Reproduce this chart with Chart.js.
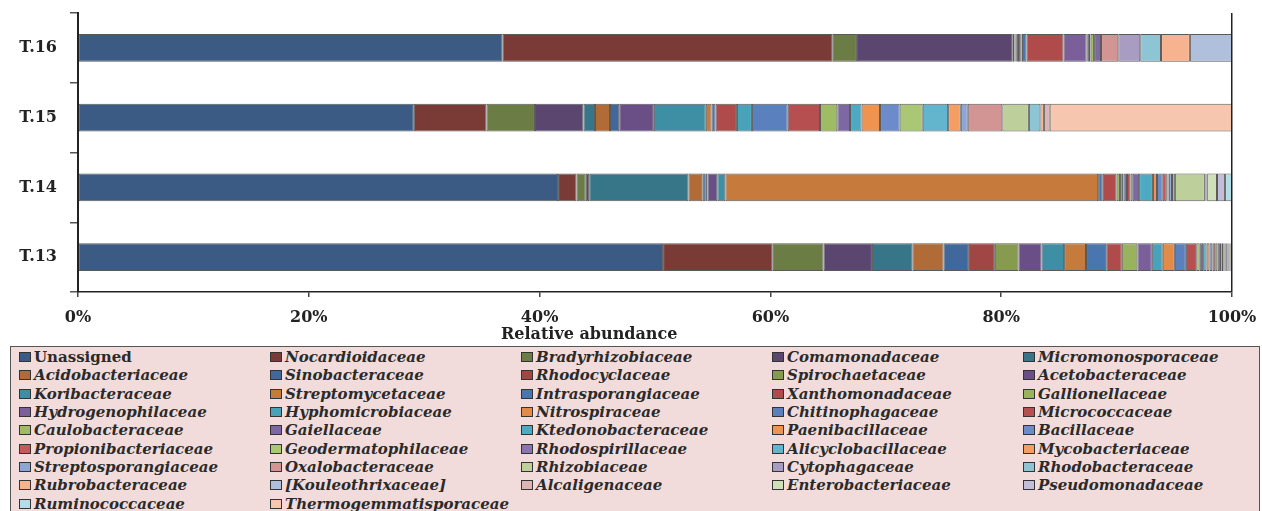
<!DOCTYPE html>
<html>
<head>
<meta charset="utf-8">
<script src="https://cdn.jsdelivr.net/npm/chart.js@4/dist/chart.umd.min.js"></script>
<style>
    html, body { margin: 0; padding: 0; background: #fff; }
    #wrap { position: relative; width: 1262px; height: 511px; overflow: hidden; }
    #chart { position: absolute; left: 0; top: 0; }
    #legend {
        position: absolute; left: 10px; top: 346px; width: 1250px; height: 180px;
        box-sizing: border-box; border: 1px solid #555; background: #F2DCDB;
        display: grid; grid-template-columns: repeat(5, 251px); grid-auto-rows: 18.3px;
        padding: 1px 0 0 8px;
        font-family: "DejaVu Serif", serif; font-weight: bold; font-style: italic;
        font-size: 15px; color: #2a2a2a;
    }
    .item { display: flex; align-items: center; white-space: nowrap; }
    .item.plain { font-style: normal; }
    .sw { width: 10px; height: 8px; border: 1px solid #333; margin-right: 3px; flex: none; }
</style>
</head>
<body>
<div id="wrap">
    <canvas id="chart" width="1262" height="345"></canvas>
    <div id="legend"></div>
</div>
<script>
// samples, top to bottom
const samples = ['T.16', 'T.15', 'T.14', 'T.13'];

const families = [
    'Unassigned', 'Nocardioidaceae', 'Bradyrhizobiaceae', 'Comamonadaceae', 'Micromonosporaceae',
    'Acidobacteriaceae', 'Sinobacteraceae', 'Rhodocyclaceae', 'Spirochaetaceae', 'Acetobacteraceae',
    'Koribacteraceae', 'Streptomycetaceae', 'Intrasporangiaceae', 'Xanthomonadaceae', 'Gallionellaceae',
    'Hydrogenophilaceae', 'Hyphomicrobiaceae', 'Nitrospiraceae', 'Chitinophagaceae', 'Micrococcaceae',
    'Caulobacteraceae', 'Gaiellaceae', 'Ktedonobacteraceae', 'Paenibacillaceae', 'Bacillaceae',
    'Propionibacteriaceae', 'Geodermatophilaceae', 'Rhodospirillaceae', 'Alicyclobacillaceae', 'Mycobacteriaceae',
    'Streptosporangiaceae', 'Oxalobacteraceae', 'Rhizobiaceae', 'Cytophagaceae', 'Rhodobacteraceae',
    'Rubrobacteraceae', '[Kouleothrixaceae]', 'Alcaligenaceae', 'Enterobacteriaceae', 'Pseudomonadaceae',
    'Ruminococcaceae', 'Thermogemmatisporaceae'
];

// relative abundance (%) per family, same order as families
const t16 = [36.8, 28.6, 2.1, 13.5, 0.15, 0.1, 0.1, 0.1, 0.1, 0.1,
    0.1, 0.05, 0.4, 3.2, 0, 2.0, 0.1, 0.1, 0.1, 0.05,
    0.3, 0.6, 0, 0, 0, 0, 0, 0, 0, 0,
    0, 1.5, 0, 1.9, 1.8, 2.5, 3.65, 0, 0, 0, 0, 0];
const t15 = [29.1, 6.3, 4.2, 4.2, 1.0, 1.3, 0.8, 0, 0, 3.0,
    4.5, 0.5, 0.35, 1.85, 0, 0, 1.3, 0, 3.1, 2.8,
    1.5, 1.1, 1.0, 1.6, 1.7, 0, 2.0, 0, 2.2, 1.1,
    0.6, 3.0, 2.3, 0, 1.0, 0.3, 0, 0.5, 0, 0, 0, 15.8];
const t14 = [41.6, 1.6, 0.8, 0.3, 8.6, 1.2, 0.3, 0.1, 0.05, 0.85,
    0.7, 32.3, 0.4, 1.2, 0.3, 0, 0.25, 0.05, 0.3, 0.3,
    0.2, 0.55, 1.2, 0.35, 0.5, 0.35, 0.05, 0.05, 0.05, 0.05,
    0.25, 0.25, 2.6, 0, 0.05, 0.05, 0.05, 0.05, 0.85, 0.7, 0.6, 0];
const t13 = [50.7, 9.5, 4.4, 4.2, 3.5, 2.7, 2.2, 2.25, 2.05, 2.0,
    1.95, 1.9, 1.75, 1.35, 1.35, 1.25, 0.95, 1.05, 0.95, 0.9,
    0.3, 0.3, 0.3, 0.25, 0.25, 0.25, 0.2, 0.2, 0.15, 0.15,
    0.1, 0.1, 0.1, 0.05, 0.05, 0.05, 0.05, 0.05, 0.05, 0.05, 0.05, 0.05];

const xTicks = [0, 20, 40, 60, 80, 100];

const colors = [
    '#3B5A84', '#7A3A35', '#6C7C45', '#5B4670', '#377688',
    '#B06B36', '#40689C', '#A04745', '#869A50', '#694F86',
    '#3F8FA4', '#C67A3C', '#4A76B0', '#AF4B4B', '#98B25E',
    '#7A5F9A', '#4AA2B9', '#E08B47', '#5A81BE', '#B65050',
    '#9FBB63', '#7E68A3', '#4EAAC2', '#EF9350', '#6B8BCB',
    '#C65A5A', '#AAC775', '#8B75AE', '#62B5CD', '#F49E63',
    '#8FA6D5', '#D39594', '#BDD09C', '#A89CC2', '#8EC5D5',
    '#F7B390', '#AFBFDC', '#DDB4B3', '#CFE0B8', '#C4BDD8',
    '#B5DDE8', '#F7C6AF'
];

const datasets = families.map((name, i) => ({
    label: name,
    data: [t16[i], t15[i], t14[i], t13[i]],
    backgroundColor: colors[i],
    borderColor: 'rgba(35,35,35,0.75)',
    borderWidth: (ctx) => ctx.raw > 0 ? 1 : 0,
    borderSkipped: false,
    barPercentage: 0.4,
    categoryPercentage: 1.0
}));

const axisFont = { family: 'DejaVu Serif', weight: 'bold', size: 16 };

// x axis title, placed off-centre like the original
const xTitle = {
    id: 'xTitle',
    afterDraw(chart) {
        const c = chart.ctx;
        const x = chart.scales.x.getPixelForValue(44.3);
        c.save();
        c.font = 'bold 16px "DejaVu Serif"';
        c.fillStyle = '#222';
        c.textAlign = 'center';
        c.textBaseline = 'middle';
        c.fillText('Relative abundance', x, 335);
        c.restore();
    }
};

new Chart(document.getElementById('chart'), {
    type: 'bar',
    data: { labels: samples, datasets: datasets },
    options: {
        indexAxis: 'y',
        responsive: false,
        animation: false,
        layout: { padding: { top: 13, right: 30, left: 0, bottom: 0 } },
        plugins: { legend: { display: false }, tooltip: { enabled: false } },
        scales: {
            x: {
                stacked: true,
                min: 0,
                max: 100,
                afterBuildTicks(scale) { scale.ticks = xTicks.map(v => ({ value: v })); },
                afterFit(scale) {
                    scale.height = 53;
                    scale.paddingLeft = 0;
                    scale.paddingRight = 0;
                },
                ticks: {
                    callback: (v) => v + '%',
                    font: axisFont,
                    color: '#222',
                    padding: 11,
                    maxRotation: 0
                },
                grid: {
                    color: (ctx) => ctx.tick && ctx.tick.value === 100 ? '#222' : 'rgba(0,0,0,0)',
                    lineWidth: 1.5,
                    tickColor: '#444',
                    tickLength: 5
                },
                border: { display: true, color: '#222', width: 1.5 }
            },
            y: {
                stacked: true,
                afterFit(scale) {
                    scale.width = 78;
                    scale.paddingTop = 0;
                    scale.paddingBottom = 0;
                },
                ticks: { font: axisFont, color: '#222', padding: 13 },
                grid: {
                    offset: true,
                    drawOnChartArea: false,
                    tickColor: '#555',
                    tickLength: 8,
                    lineWidth: 1.5
                },
                border: { display: true, color: '#222', width: 2 }
            }
        }
    },
    plugins: [xTitle]
});

// legend in 5 fixed columns, built from the same arrays
const legendEl = document.getElementById('legend');
families.forEach((name, i) => {
    const item = document.createElement('div');
    item.className = i === 0 ? 'item plain' : 'item';
    const sw = document.createElement('span');
    sw.className = 'sw';
    sw.style.background = colors[i];
    item.appendChild(sw);
    item.appendChild(document.createTextNode(name));
    legendEl.appendChild(item);
});
</script>
</body>
</html>
